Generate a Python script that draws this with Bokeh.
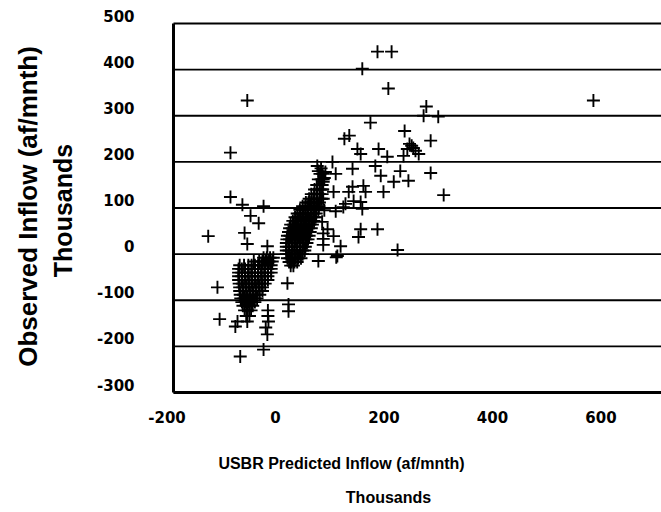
import math
from bokeh.plotting import figure
from bokeh.models import Range1d
from bokeh.core.properties import value
from bokeh.embed import file_html
from bokeh.resources import INLINE

# ---------------- data (thousands of af/mnth) ----------------
x_ticks = [-200, 0, 200, 400, 600]
x_tick_labels = ["-200", "0", "200", "400", "600"]
y_ticks = [500, 400, 300, 200, 100, 0, -100, -200, -300]
y_tick_labels = ["500", "400", "300", "200", "100", "0", "-100", "-200", "-300"]
x_title = "USBR Predicted Inflow (af/mnth)"
x_unit = "Thousands"
y_title = "Observed Inflow (af/mnth)"
y_unit = "Thousands"

# individually readable points
pred_single = [-52, -83, -83, -61, -22, -46, -31, -124, -57, -52, -15,
               -107, -103, -74, -70, -65, -22, -18, -15, 22, 24, 24, 79, 112,
               586, 188, 214, 160, 208, 278, 273, 300, 175, 238, 127, 136, 286,
               243, 251, 258, 247, 264, 254,
               151, 157, 190, 206, 236, 105, 92, 88, 142, 184, 194, 230, 218, 245, 286,
               142, 162, 166, 199, 310, 107, 144, 157, 129, 160, 111, 157, 188, 153, 225,
               96, 107, 120, 125, 135, 88, 79, 77, 111, 114,
               88, 88, 86, 90, 88, 86, 90]
obs_single = [333, 220, 124, 107, 104, 83, 67, 39, 46, 22, 17,
              -72, -141, -157, -146, -222, -207, -159, -174, -63, -109, -124, -15, -7,
              333, 439, 439, 402, 359, 320, 300, 298, 285, 267, 250, 257, 246,
              228, 235, 224, 239, 217, 230,
              228, 217, 228, 211, 213, 200, 178, 157, 185, 191, 170, 180, 157, 159, 176,
              146, 148, 135, 135, 128, 135, 115, 113, 109, 98, 93, 54, 54, 37, 9,
              54, 39, 17, 102, 135, 33, 180, 191, 174, -4,
              20, 45, 70, 95, 120, 140, 165]

# dense cluster near the origin (along the diagonal)
pred_core = [28, 33,
             25, 30, 35, 40,
             22, 27, 32, 37, 42, 47,
             20, 25, 30, 35, 40, 45, 50,
             20, 25, 30, 35, 40, 45, 50, 54,
             20, 25, 30, 35, 40, 45, 50, 55,
             20, 25, 30, 35, 40, 45, 50, 55, 58,
             21, 26, 31, 36, 41, 46, 51, 56, 60,
             22, 27, 32, 37, 42, 47, 52, 57, 62,
             24, 29, 34, 39, 44, 49, 54, 59, 64,
             26, 31, 36, 41, 46, 51, 56, 61, 66,
             28, 33, 38, 43, 48, 53, 58, 63, 68,
             32, 37, 42, 47, 52, 57, 62, 67, 71,
             36, 41, 46, 51, 56, 61, 66, 71, 74,
             40, 45, 50, 55, 60, 65, 70, 75,
             45, 50, 55, 60, 65, 70, 75, 79,
             50, 55, 60, 65, 70, 75, 80,
             56, 61, 66, 71, 76, 81,
             62, 67, 72, 77, 82, 85,
             66, 71, 76, 81, 86,
             72, 77, 82, 87,
             76, 81, 86,
             79, 84, 88,
             82, 87,
             84]
obs_core = [-25, -25,
            -17, -17, -17, -17,
            -9, -9, -9, -9, -9, -9,
            0, 0, 0, 0, 0, 0, 0,
            8, 8, 8, 8, 8, 8, 8, 8,
            16, 16, 16, 16, 16, 16, 16, 16,
            24, 24, 24, 24, 24, 24, 24, 24, 24,
            32, 32, 32, 32, 32, 32, 32, 32, 32,
            40, 40, 40, 40, 40, 40, 40, 40, 40,
            48, 48, 48, 48, 48, 48, 48, 48, 48,
            56, 56, 56, 56, 56, 56, 56, 56, 56,
            64, 64, 64, 64, 64, 64, 64, 64, 64,
            72, 72, 72, 72, 72, 72, 72, 72, 72,
            80, 80, 80, 80, 80, 80, 80, 80, 80,
            88, 88, 88, 88, 88, 88, 88, 88,
            96, 96, 96, 96, 96, 96, 96, 96,
            104, 104, 104, 104, 104, 104, 104,
            112, 112, 112, 112, 112, 112,
            120, 120, 120, 120, 120, 120,
            130, 130, 130, 130, 130,
            140, 140, 140, 140,
            150, 150, 150,
            162, 162, 162,
            174, 174,
            186]

# dense cluster below zero (lower left)
pred_low = [-22, -16, -10, -4,
            -40, -30, -24, -18, -12, -6,
            -66, -58, -50, -44, -38, -32, -26, -20, -14, -8,
            -68, -62, -56, -50, -44, -38, -32, -26, -20, -14, -8,
            -68, -62, -56, -50, -44, -38, -32, -26, -20, -14, -8,
            -68, -62, -56, -50, -44, -38, -32, -26, -20, -14,
            -68, -62, -56, -50, -44, -38, -32, -26, -20, -14,
            -67, -61, -55, -49, -43, -37, -31, -25, -19,
            -66, -60, -54, -48, -42, -36, -30, -24,
            -66, -60, -54, -48, -42, -36, -30, -24,
            -65, -59, -53, -47, -41, -35, -29,
            -64, -58, -52, -46, -40, -34,
            -62, -56, -50, -44, -38,
            -60, -54, -48, -42,
            -57, -51, -45, -14,
            -54, -48, -14,
            -52, -13]
obs_low = [-8, -8, -8, -8,
           -16, -16, -16, -16, -16, -16,
           -24, -24, -24, -24, -24, -24, -24, -24, -24, -24,
           -32, -32, -32, -32, -32, -32, -32, -32, -32, -32, -32,
           -40, -40, -40, -40, -40, -40, -40, -40, -40, -40, -40,
           -48, -48, -48, -48, -48, -48, -48, -48, -48, -48,
           -56, -56, -56, -56, -56, -56, -56, -56, -56, -56,
           -64, -64, -64, -64, -64, -64, -64, -64, -64,
           -72, -72, -72, -72, -72, -72, -72, -72,
           -80, -80, -80, -80, -80, -80, -80, -80,
           -88, -88, -88, -88, -88, -88, -88,
           -96, -96, -96, -96, -96, -96,
           -104, -104, -104, -104, -104,
           -112, -112, -112, -112,
           -122, -122, -122, -122,
           -134, -134, -134,
           -146, -146]

predicted = pred_single + pred_core + pred_low
observed = obs_single + obs_core + obs_low

# ---------------- layout ----------------
W, H = 661, 512
BOX_L, BOX_T, BOX_W, BOX_H = 173, 23, 488, 369   # chart box in pixels
X0, XR = -188, 711.5      # x values at the box's left / right edge
Y0, Y1 = -300, 500        # y values at the box's bottom / top edge
UX = (XR - X0) / BOX_W
UY = (Y1 - Y0) / BOX_H

def dx(px):
    return X0 + (px - BOX_L) * UX

def dy(py):
    return Y1 - (py - BOX_T) * UY

p = figure(width=W, height=H, x_range=Range1d(dx(0), dx(W)), y_range=Range1d(dy(H), dy(0)),
           min_border=0, output_backend="svg", toolbar_location=None)
p.outline_line_color = None
p.xaxis.visible = False
p.yaxis.visible = False
p.xgrid.visible = False
p.ygrid.visible = False
p.background_fill_color = "white"
p.border_fill_color = "white"

# horizontal grid lines at each y tick
p.segment(x0=[X0] * len(y_ticks), y0=y_ticks, x1=[XR] * len(y_ticks), y1=y_ticks,
          line_color="black", line_width=1.8)
# chart box: left and bottom edges
p.segment(x0=[X0, X0], y0=[Y0, Y0], x1=[X0, XR], y1=[Y1, Y0],
          line_color="black", line_width=3)

p.scatter(predicted, observed, marker="cross", size=13, line_color="black", line_width=1.9)

TICK_FONT = value("DejaVu Sans")
FONT = value("Liberation Sans")
p.text(x=[X0] * len(y_ticks), y=y_ticks, text=y_tick_labels, x_offset=-39, y_offset=-8,
       text_align="right", text_baseline="middle", text_font=TICK_FONT,
       text_font_style="bold", text_font_size="15px", text_color="black")
p.text(x=x_ticks, y=[Y0] * len(x_ticks), text=x_tick_labels, y_offset=24,
       text_align="center", text_baseline="middle", text_font=TICK_FONT,
       text_font_style="bold", text_font_size="15px", text_color="black")

p.text(x=[dx(27)], y=[dy(206)], text=[y_title], angle=math.pi / 2,
       text_align="center", text_baseline="middle", text_font=FONT,
       text_font_style="bold", text_font_size="26px", text_color="black")
p.text(x=[dx(62)], y=[dy(210)], text=[y_unit], angle=math.pi / 2,
       text_align="center", text_baseline="middle", text_font=FONT,
       text_font_style="bold", text_font_size="25px", text_color="black")
p.text(x=[dx(341)], y=[dy(463)], text=[x_title],
       text_align="center", text_baseline="middle", text_font=FONT,
       text_font_style="bold", text_font_size="16px", text_color="black")
p.text(x=[dx(388)], y=[dy(497)], text=[x_unit],
       text_align="center", text_baseline="middle", text_font=FONT,
       text_font_style="bold", text_font_size="16px", text_color="black")

open("out.html", "w").write(file_html(p, INLINE))
